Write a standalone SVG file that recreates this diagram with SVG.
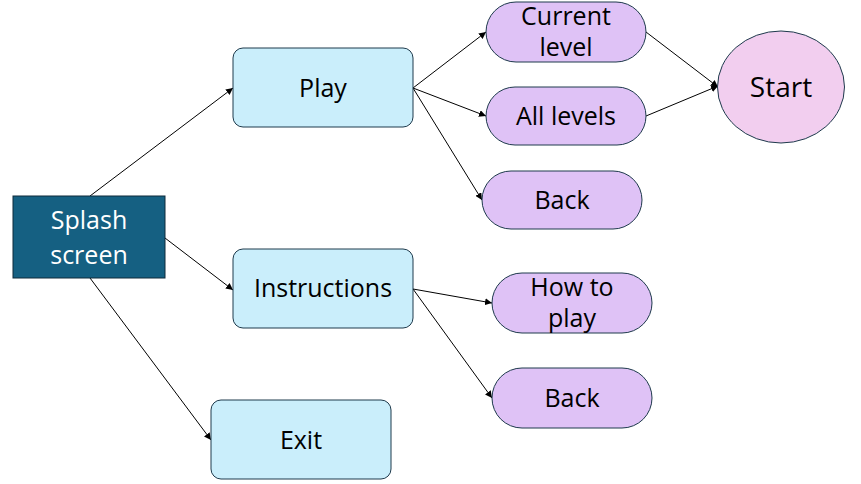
<svg xmlns="http://www.w3.org/2000/svg" width="861" height="484" viewBox="0 0 861 484">
<defs>
<marker id="ah" viewBox="0 0 10 10" refX="10" refY="5" markerWidth="7" markerHeight="7" markerUnits="userSpaceOnUse" orient="auto">
<path d="M0,0 L10,5 L0,10 Z" fill="#000"/>
</marker>
<style>
.t{font-family:"Open Sans","Liberation Sans",sans-serif;font-size:25px;fill:#000;text-anchor:middle;}
.w{fill:#fff;}
.box{fill:#CAEEFB;stroke:#1E3A4C;stroke-width:1;}
.pill{fill:#DFC2F6;stroke:#1E3A4C;stroke-width:1;}
.c{stroke:#000;stroke-width:1;fill:none;marker-end:url(#ah);}
</style>
</defs>
<rect width="861" height="484" fill="#fff"/>
<g id="connectors">
<line class="c" x1="90" y1="196" x2="233" y2="88"/>
<line class="c" x1="165" y1="238" x2="233" y2="290"/>
<line class="c" x1="90" y1="278" x2="211" y2="440"/>
<line class="c" x1="413" y1="88" x2="486" y2="32"/>
<line class="c" x1="413" y1="88" x2="486" y2="116"/>
<line class="c" x1="413" y1="88" x2="482" y2="200"/>
<line class="c" x1="646" y1="32" x2="718" y2="87"/>
<line class="c" x1="646" y1="116" x2="718" y2="86"/>
<line class="c" x1="413" y1="289" x2="492" y2="303"/>
<line class="c" x1="413" y1="289" x2="492" y2="398"/>
</g>
<g id="splash">
<rect x="13" y="196" width="152" height="82" fill="#156082" stroke="#0E2A3A" stroke-width="1"/>
<text class="t w" x="89" y="229">Splash</text>
<text class="t w" x="89" y="264">screen</text>
</g>
<g id="play">
<rect class="box" x="233" y="48" width="180" height="79" rx="10"/>
<text class="t" x="323" y="97">Play</text>
</g>
<g id="instructions">
<rect class="box" x="233" y="249" width="180" height="79" rx="10"/>
<text class="t" x="323" y="297">Instructions</text>
</g>
<g id="exit">
<rect class="box" x="211" y="400" width="180" height="79" rx="10"/>
<text class="t" x="301" y="449">Exit</text>
</g>
<g id="current-level">
<rect class="pill" x="486" y="2" width="160" height="60" rx="30"/>
<text class="t" x="566" y="25">Current</text>
<text class="t" x="566" y="56">level</text>
</g>
<g id="all-levels">
<rect class="pill" x="486" y="87" width="160" height="58" rx="29"/>
<text class="t" x="566" y="125">All levels</text>
</g>
<g id="back-play">
<rect class="pill" x="482" y="171" width="160" height="58" rx="29"/>
<text class="t" x="562" y="209">Back</text>
</g>
<g id="how-to-play">
<rect class="pill" x="492" y="273" width="160" height="60" rx="30"/>
<text class="t" x="572" y="296">How to</text>
<text class="t" x="572" y="327">play</text>
</g>
<g id="back-instructions">
<rect class="pill" x="492" y="368" width="160" height="60" rx="30"/>
<text class="t" x="572" y="407">Back</text>
</g>
<g id="start">
<ellipse cx="781" cy="87" rx="63.5" ry="56" fill="#F2CEEF" stroke="#1E3A4C" stroke-width="1"/>
<text class="t" x="781" y="97" style="font-size:28px">Start</text>
</g>
</svg>
